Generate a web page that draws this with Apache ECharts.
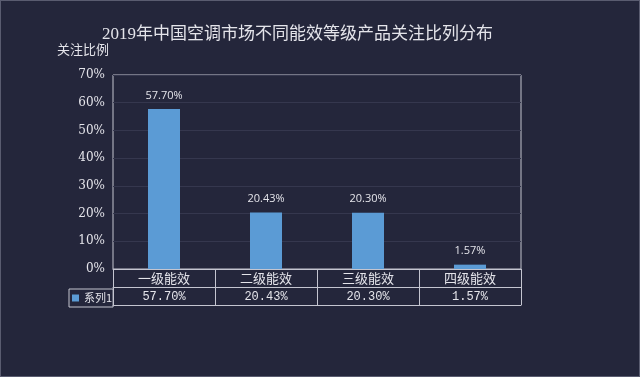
<!DOCTYPE html>
<html><head><meta charset="utf-8">
<script src="https://cdn.jsdelivr.net/npm/echarts@6/dist/echarts.min.js"></script>
<style>
html,body{margin:0;padding:0;background:#24263b;}
#c{width:640px;height:377px;box-sizing:border-box;border:1px solid #5a5c70;}
</style></head>
<body><div id="c"></div>
<script>
const titleText = '2019年中国空调市场不同能效等级产品关注比列分布';
const yAxisName = '关注比例';
const categories = ['一级能效', '二级能效', '三级能效', '四级能效'];
const seriesName = '系列1';
const values = [57.70, 20.43, 20.30, 1.57];

const serif = '"DejaVu Serif","Liberation Serif","Noto Sans CJK SC",serif';
const txt = '#e4e4ea';
const lineC = '#c4c5d0';

const chart = echarts.init(document.getElementById('c'));
chart.setOption({
  backgroundColor: '#24263b',
  animation: false,
  title: {
    text: titleText, left: 96, top: 20,
    textStyle: {color: txt, fontSize: 17, fontWeight: 'normal', fontFamily: '"Liberation Serif","Noto Sans CJK SC",serif'}
  },
  legend: {
    data: [seriesName], left: 68, top: 288,
    orient: 'horizontal',
    padding: [2, 1, 2, 3], itemWidth: 7, itemHeight: 7, itemGap: 0,
    borderWidth: 1, borderColor: lineC, borderRadius: 0,
    icon: 'rect',
    textStyle: {color: txt, fontSize: 11, fontFamily: '"Noto Sans CJK SC",sans-serif', lineHeight: 14}
  },
  grid: {left: 112, right: 118, top: 74, bottom: 107, show: true, borderColor: lineC, borderWidth: 1},
  xAxis: [
    {
      type: 'category', data: categories, position: 'bottom',
      axisLine: {show: true, lineStyle: {color: lineC, width: 1}},
      axisTick: {show: true, length: 36, lineStyle: {color: lineC, width: 1}},
      axisLabel: {color: txt, fontSize: 13, margin: 3, fontFamily: '"Noto Sans CJK SC",serif'}
    },
    {
      type: 'category', data: categories, position: 'bottom', offset: 18,
      axisLine: {show: true, lineStyle: {color: lineC, width: 1}},
      axisTick: {show: false},
      axisLabel: {color: txt, fontSize: 12, margin: 4, fontFamily: '"Liberation Mono","DejaVu Sans Mono",monospace',
        formatter: (v, i) => values[i].toFixed(2) + '%'}
    },
    {
      type: 'category', data: categories, position: 'bottom', offset: 36,
      axisLine: {show: true, lineStyle: {color: lineC, width: 1}},
      axisTick: {show: false}, axisLabel: {show: false}
    }
  ],
  yAxis: {
    type: 'value', min: 0, max: 70, interval: 10,
    name: yAxisName, nameLocation: 'end', nameGap: 19,
    nameTextStyle: {color: txt, fontSize: 13, align: 'right', padding: [0, 4, 0, 0], fontFamily: '"Noto Sans CJK SC",sans-serif'},
    axisLine: {show: false}, axisTick: {show: false},
    axisLabel: {color: txt, fontSize: 12, margin: 8, formatter: '{value}%', fontFamily: serif},
    splitLine: {lineStyle: {color: '#35374e', width: 1}}
  },
  series: [{
    name: seriesName, type: 'bar', data: values, barWidth: 32, xAxisIndex: 0,
    itemStyle: {color: '#5b9bd5'},
    label: {show: true, position: 'top', distance: 8, color: txt, fontSize: 11,
      fontFamily: '"Open Sans","Liberation Sans",sans-serif',
      formatter: p => p.value.toFixed(2) + '%'}
  }]
});
</script></body></html>
